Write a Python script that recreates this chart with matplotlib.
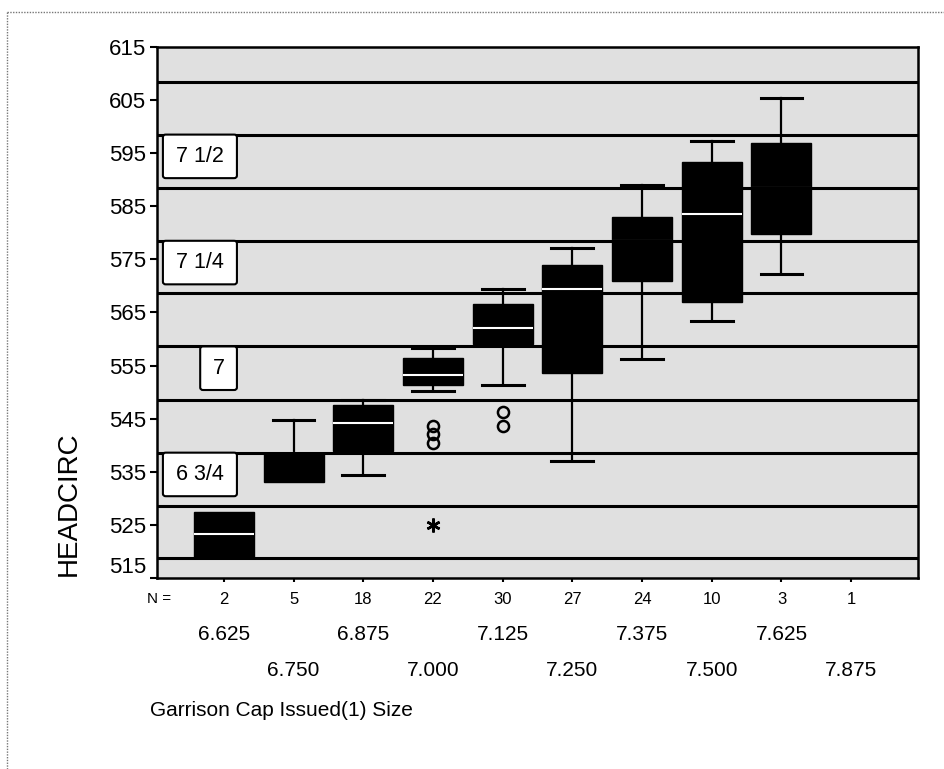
import matplotlib
matplotlib.use("Agg")
import matplotlib.pyplot as plt
import matplotlib.transforms as mtransforms
from matplotlib.patches import FancyBboxPatch
from matplotlib.lines import Line2D

plt.rcParams['font.family'] = ['Liberation Sans', 'DejaVu Sans']

# ====== DATA =======
cap_sizes = ["6.625", "6.750", "6.875", "7.000", "7.125",
             "7.250", "7.375", "7.500", "7.625", "7.875"]
n_counts = [2, 5, 18, 22, 30, 27, 24, 10, 3, 1]

# box stats per size (N=1 has no box)
whis_lo = [519.0, 533.0, 534.4, 550.3, 551.4, 537.1, 556.2, 563.4, 572.2]
q1_vals = [519.0, 533.0, 538.9, 551.3, 559.0, 553.6, 571.0, 567.0, 579.8]
medians = [523.2, 538.5, 544.1, 553.2, 562.0, 569.5, 578.5, 583.6, 588.5]
q3_vals = [527.5, 538.4, 547.5, 556.4, 566.6, 574.0, 582.9, 593.4, 596.9]
whis_hi = [527.5, 544.8, 548.6, 558.4, 569.4, 577.2, 589.1, 597.3, 605.3]
outliers = [[], [], [], [543.7, 542.1, 540.5], [546.2, 543.7], [], [], [], []]
extremes = [[], [], [], [525.0], [], [], [], [], []]

# hat size boundaries (mm) and the band labels
ref_lines = [518.7, 528.6, 538.6, 548.6, 558.6, 568.6, 578.5, 588.5, 598.5, 608.4]
band_labels = ["7 1/2", "7 1/4", "7", "6 3/4"]
band_tops = [598.5, 578.5, 558.6, 538.6]

y_ticks = list(range(515, 616, 10))

# ====== PLOT =======
fig = plt.figure(figsize=(9.44, 7.69), dpi=100)
ax = fig.add_axes([0.1663, 0.2484, 0.8062, 0.6905])
ax.set_facecolor('#e0e0e0')

stats = []
for i in range(len(q1_vals)):
    stats.append({
        'whislo': whis_lo[i], 'q1': q1_vals[i], 'med': medians[i],
        'q3': q3_vals[i], 'whishi': whis_hi[i], 'fliers': [],
    })
pos = list(range(1, len(q1_vals) + 1))
parts = ax.bxp(stats, positions=pos, widths=0.86, patch_artist=True, showfliers=False,
               boxprops=dict(facecolor='black', edgecolor='black', linewidth=1),
               medianprops=dict(color='white', linewidth=1.5),
               whiskerprops=dict(color='black', linewidth=1.6),
               capprops=dict(color='black', linewidth=2.2),
               capwidths=0.6, manage_ticks=False)

# no cap where the whisker ends at the box
for i in range(len(q1_vals)):
    if whis_lo[i] >= q1_vals[i]:
        parts['caps'][2 * i].set_visible(False)
    if whis_hi[i] <= q3_vals[i]:
        parts['caps'][2 * i + 1].set_visible(False)

for i, vals in enumerate(outliers):
    if vals:
        ax.plot([pos[i]] * len(vals), vals, 'o', mfc='none', mec='black',
                mew=1.8, ms=8, zorder=4)
for i, vals in enumerate(extremes):
    if vals:
        ax.plot([pos[i]] * len(vals), vals, marker=(6, 2, 0), ls='none',
                color='black', mew=1.8, ms=10, zorder=4)

for v in ref_lines:
    ax.axhline(v, color='black', lw=2.2, zorder=3)

for txt, top in zip(band_labels, band_tops):
    left = 0.66 if txt == "7" else 0.125
    right = 1.187
    box = FancyBboxPatch((left, top - 8.2), right - left, 8.2,
                         boxstyle="round,pad=0,rounding_size=0.04",
                         mutation_aspect=12, facecolor='white',
                         edgecolor='black', lw=1.5, zorder=5)
    ax.add_patch(box)
    ax.text((left + right) / 2, top - 4.1, txt, ha='center', va='center',
            fontsize=15.5, zorder=6)

ax.set_xlim(0.04, 10.96)
ax.set_ylim(515, 615)
ax.set_yticks(y_ticks)
ax.set_yticklabels([str(t) for t in y_ticks], fontsize=16)
ax.get_yticklabels()[0].set_va('bottom')
ax.set_xticks(range(1, len(cap_sizes) + 1))
ax.set_xticklabels([])
ax.tick_params(axis='y', length=5, width=1.5, pad=3)
ax.tick_params(axis='x', length=3, width=1.5)
for sp in ax.spines.values():
    sp.set_linewidth(1.8)

# N counts and two-row category labels
trans = mtransforms.blended_transform_factory(ax.transData, fig.transFigure)
fig.text(0.181, 0.221, "N =", ha='right', va='center', fontsize=11)
for i, (lab, n) in enumerate(zip(cap_sizes, n_counts)):
    x = i + 1
    ax.text(x, 0.221, str(n), transform=trans, ha='center', va='center', fontsize=12)
    y = 0.1755 if i % 2 == 0 else 0.1287
    ax.text(x, y, lab, transform=trans, ha='center', va='center', fontsize=15)

fig.text(0.159, 0.0767, "Garrison Cap Issued(1) Size", ha='left', va='center', fontsize=15)
fig.text(0.073, 0.3446, "HEADCIRC", rotation=90, ha='center', va='center', fontsize=20)

# scanned page border
fig.add_artist(Line2D([0.0075, 1.0], [0.9844, 0.9844], transform=fig.transFigure,
                      color='#777777', lw=1, ls=(0, (1, 1))))
fig.add_artist(Line2D([0.0075, 0.0075], [0.0, 0.9844], transform=fig.transFigure,
                      color='#777777', lw=1, ls=(0, (1, 1))))

fig.savefig("out.png", dpi=100)
